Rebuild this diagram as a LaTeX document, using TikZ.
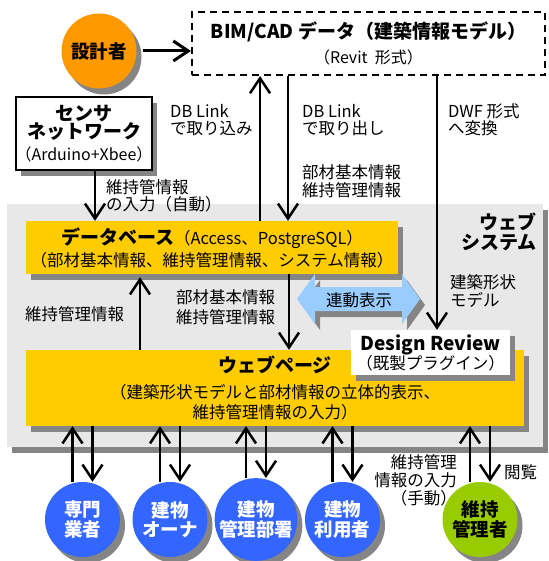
\documentclass[tikz,border=0pt]{standalone}
\usepackage{fontspec}
\setmainfont{Noto Sans CJK JP}
\usetikzlibrary{arrows.meta,shadows,calc}
\definecolor{orangeC}{HTML}{FF9900}
\definecolor{yellowC}{HTML}{FFCC00}
\definecolor{blueC}{HTML}{3366FF}
\definecolor{greenC}{HTML}{99CC00}
\definecolor{lightblueC}{HTML}{99CCFF}
\definecolor{regionC}{HTML}{E8E8E8}
\definecolor{shadowC}{HTML}{858585}
\newcommand{\fsz}[2]{\fontsize{#1}{#2}\selectfont\lineskiplimit=-30pt\relax}
\newcommand{\ttlf}{\fontsize{19}{21}\selectfont\bfseries}
\begin{document}
\begin{tikzpicture}[x=1pt,y=-1pt,
  shd/.style={drop shadow={shadow xshift=5pt,shadow yshift=-6pt,fill=shadowC,opacity=1}},
  plainbox/.style={rectangle, inner sep=0pt, align=center},
  box/.style={plainbox, shd},
  person/.style={circle, inner sep=0pt, minimum size=75pt, align=center, shd,
    font=\fsz{18.5}{19.5}\bfseries},
  lbl/.style={inner sep=0pt, font=\fsz{16.5}{17.5}},
  arr/.style={line width=2.5pt, -{Straight Barb[length=15pt,width=20pt]}},
]
\useasboundingbox (0,0) rectangle (548,561);

% web system region
\node[box, fill=regionC, minimum width=536pt, minimum height=243pt] (web) at (275,325.5) {};

% BIM/CAD data
\node[plainbox, draw, line width=2pt, dash pattern=on 7pt off 5pt, fill=white,
  minimum width=353pt, minimum height=63pt, font=\fsz{16}{25}] (bim) at (368.5,43.5)
  {{\ttlf BIM/CAD データ（建築情報モデル）}\\（Revit\ \ 形式）};

% designer
\node[person, fill=orangeC] (designer) at (99,51) {設計者};

% sensor network
\node[box, draw, line width=2pt, fill=white, minimum width=136pt, minimum height=73pt,
  font=\fsz{16}{18}] (sensor) at (84,133.5)
  {{\ttlf センサ}\\{\ttlf ネットワーク}\\[4pt]（Arduino+Xbee）};

% database
\node[box, fill=yellowC, minimum width=372pt, minimum height=53pt, font=\fsz{16.5}{22}]
  (db) at (212,247.5)
  {{\ttlf データベース}（Access、PostgreSQL）\\（部材基本情報、維持管理情報、システム情報）};

% web page
\node[box, fill=yellowC, minimum width=498pt, minimum height=76pt, font=\fsz{16.5}{20}]
  (page) at (275,388)
  {{\ttlf ウェブページ}\\[6pt]（建築形状モデルと部材情報の立体的表示、\\維持管理情報の入力）};

% linked display double arrow
\fill[shadowC, shift={(5,6)}] (297,299) -- (315,274) -- (315,287) -- (402,287) -- (402,274)
  -- (420,299) -- (402,324) -- (402,311) -- (315,311) -- (315,324) -- cycle;
\fill[lightblueC] (297,299) -- (315,274) -- (315,287) -- (402,287) -- (402,274)
  -- (420,299) -- (402,324) -- (402,311) -- (315,311) -- (315,324) -- cycle;
\node[lbl] (link) at (359,300) {連動表示};

% design review
\node[box, fill=white, minimum width=159pt, minimum height=45pt, font=\fsz{16.5}{19}]
  (dr) at (430.5,352.5) {{\ttlf Design Review}\\（既製プラグイン）};

% users
\node[person, fill=blueC, text=white] (c1) at (82.5,519.5) {専門\\業者};
\node[person, fill=blueC, text=white] (c2) at (170,519.5) {建物\\オーナ};
\node[person, fill=blueC, text=white] (c3) at (256,519.5) {建物\\管理部署};
\node[person, fill=blueC, text=white] (c4) at (342.5,519.5) {建物\\利用者};
\node[person, fill=greenC, text=black] (c5) at (480,519.5) {維持\\管理者};

% helper x positions
\coordinate (xSen) at (95,0);
\coordinate (xImp) at (260,0);
\coordinate (xExp) at (288,0);
\coordinate (xDwf) at (437,0);
\coordinate (xUp) at (140,0);
\coordinate (xDown) at (289,0);

% connectors
\draw[arr, line width=3pt] ([xshift=6pt]designer.east) -- (designer.east -| bim.west);
\draw[arr] (sensor.south -| xSen) -- (db.north -| xSen);
\draw[arr] (db.north -| xImp) -- (bim.south -| xImp);
\draw[arr] (bim.south -| xExp) -- (db.north -| xExp);
\draw[arr] (bim.south -| xDwf) -- (dr.north -| xDwf);
\draw[arr] (page.north -| xUp) -- ($(db.south -| xUp)+(0,3)$);
\draw[arr] (db.south -| xDown) -- (page.north -| xDown);
\foreach \c in {c1,c2,c3,c4,c5} {
  \draw[arr] ([xshift=-10pt]\c.north) -- ([xshift=-10pt]\c.north |- page.south);
  \draw[arr] ([xshift=10pt]\c.north |- page.south) -- ([xshift=10pt]\c.north);
}

% labels
\node[lbl, anchor=west, align=left] (limp) at (170,120) {DB Link\\で取り込み};
\node[lbl, anchor=west, align=left] (lexp) at (302,120) {DB Link\\で取り出し};
\node[lbl, anchor=west, align=left] (lexpi) at (302,181) {部材基本情報\\維持管理情報};
\node[lbl, anchor=west, align=left] (ldwf) at (448,120) {DWF 形式\\へ変換};
\node[lbl, anchor=west, align=left] (lsen) at (106,196) {維持管情報\\の入力（自動）};
\node[inner sep=0pt, anchor=east, align=right, font=\fsz{19}{20}\bfseries] (lweb) at (537,232) {ウェブ\\システム};
\node[lbl, anchor=west, align=left] (lshape) at (450,291) {建築形状\\モデル};
\node[lbl, anchor=west] (lmaint) at (25,314) {維持管理情報};
\node[lbl, anchor=west, align=left, font=\fsz{16.5}{20.5}] (ldown) at (176,307) {部材基本情報\\維持管理情報};
\node[lbl, anchor=east, align=right, font=\fsz{16.5}{18}] (lman) at (457,480) {維持管理\\情報の入力\\（手動）};
\node[lbl, anchor=west] (lview) at (504,472) {閲覧};
\end{tikzpicture}
\end{document}
